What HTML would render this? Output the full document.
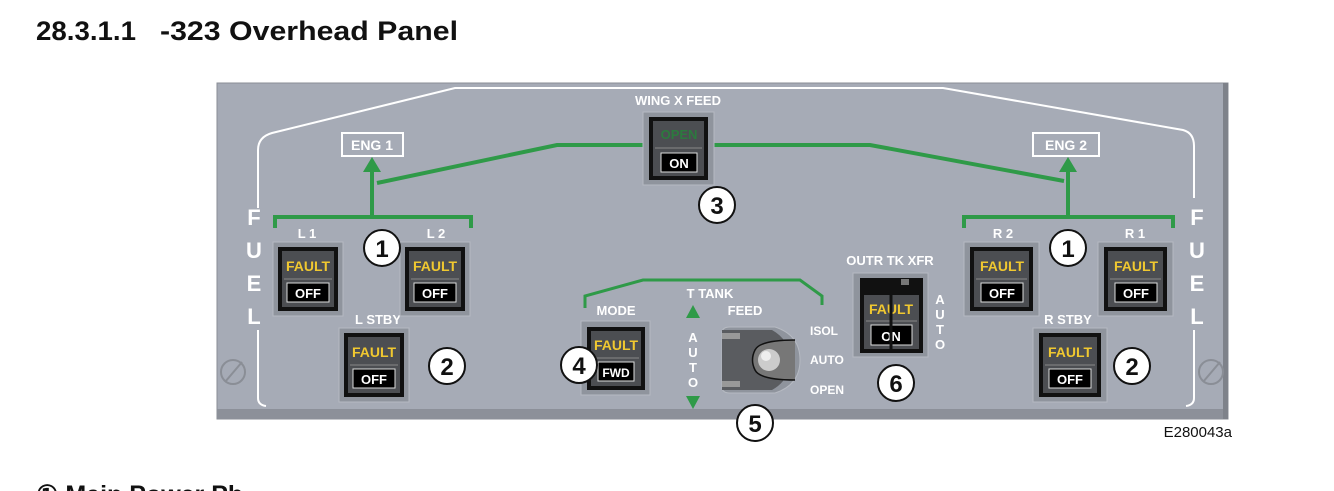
<!DOCTYPE html>
<html><head><meta charset="utf-8"><style>
html,body{margin:0;padding:0;background:#fff;}
svg{display:block;font-family:"Liberation Sans",Arial,sans-serif;}
</style></head><body>
<svg width="1334" height="491" viewBox="0 0 1334 491" xmlns="http://www.w3.org/2000/svg">
<text x="36" y="40" font-size="27" font-weight="bold" fill="#111" textLength="100" lengthAdjust="spacingAndGlyphs">28.3.1.1</text>
<text x="160" y="40" font-size="27" font-weight="bold" fill="#111" textLength="298" lengthAdjust="spacingAndGlyphs">-323 Overhead Panel</text>
<text x="36" y="503" font-size="25" font-weight="bold" fill="#111">① Main Power Pb</text>

<!-- panel -->
<rect x="217" y="83" width="1011" height="336" fill="#a6abb6" stroke="#8a8e96" stroke-width="1"/>
<rect x="217" y="409" width="1011" height="10" fill="#8c9099"/>
<rect x="1223" y="83" width="5" height="336" fill="#7e828a"/>
<path d="M258,208 L258,150 Q258,137 272,133 L455,88 L943,88 L1183,130 Q1194,133 1194,146 L1194,198" fill="none" stroke="#fff" stroke-width="2"/>
<path d="M258,330 L258,398 Q258,405 266,406" fill="none" stroke="#fff" stroke-width="2"/>
<path d="M1194,330 L1194,398 Q1194,405 1186,406" fill="none" stroke="#fff" stroke-width="2"/>
<g font-size="22" font-weight="bold" fill="#fff" text-anchor="middle">
<text x="254" y="225">F</text><text x="254" y="258">U</text><text x="254" y="291">E</text><text x="254" y="324">L</text>
<text x="1197" y="225">F</text><text x="1197" y="258">U</text><text x="1197" y="291">E</text><text x="1197" y="324">L</text>
</g>
<g stroke="#8a8e96" stroke-width="2" fill="#a6abb6">
<circle cx="233" cy="372" r="12"/><line x1="225" y1="382" x2="242" y2="362"/>
<circle cx="1211" cy="372" r="12"/><line x1="1203" y1="382" x2="1220" y2="362"/>
</g>

<g fill="none" stroke="#2f9a48" stroke-width="4">
<path d="M275,228 L275,217 L471,217 L471,228"/>
<path d="M372,217 L372,170"/>
<path d="M377,183 L557,145 L645,145"/>
<path d="M964,228 L964,217 L1173,217 L1173,228"/>
<path d="M1068,217 L1068,170"/>
<path d="M1064,181 L870,145 L712,145"/>
<path d="M585,308 L585,296 L643,280 L800,280 L822,296 L822,305" stroke-width="3"/>
</g>
<polygon points="372,157 363,172 381,172" fill="#2f9a48"/>
<polygon points="1068,157 1059,172 1077,172" fill="#2f9a48"/>
<polygon points="693,305 686,318 700,318" fill="#2f9a48"/>
<polygon points="693,409 686,396 700,396" fill="#2f9a48"/>

<rect x="342" y="133" width="61" height="23" fill="none" stroke="#fff" stroke-width="2"/>
<text x="372" y="150" font-size="14" font-weight="bold" fill="#fff" text-anchor="middle">ENG 1</text>
<rect x="1033" y="133" width="66" height="23" fill="none" stroke="#fff" stroke-width="2"/>
<text x="1066" y="150" font-size="14" font-weight="bold" fill="#fff" text-anchor="middle">ENG 2</text>

<g font-size="13" font-weight="bold" fill="#fff" text-anchor="middle">
<text x="307" y="238">L 1</text><text x="436" y="238">L 2</text><text x="378" y="324">L STBY</text>
<text x="1003" y="238">R 2</text><text x="1135" y="238">R 1</text><text x="1068" y="324">R STBY</text>
<text x="678" y="105">WING X FEED</text>
<text x="710" y="298">T TANK</text>
<text x="616" y="315">MODE</text>
<text x="745" y="315">FEED</text>
<text x="890" y="265">OUTR TK XFR</text>
<text x="693" y="342">A</text><text x="693" y="357">U</text><text x="693" y="372">T</text><text x="693" y="387">O</text>
<text x="940" y="304">A</text><text x="940" y="319">U</text><text x="940" y="334">T</text><text x="940" y="349">O</text>
</g>
<g font-size="12" font-weight="bold" fill="#fff">
<text x="810" y="335">ISOL</text><text x="810" y="364">AUTO</text><text x="810" y="394">OPEN</text>
</g>

<g font-weight="bold" text-anchor="middle">
<rect x="273" y="242" width="70" height="74" fill="#8f949d" stroke="#b6bac2"/>
<rect x="278" y="247" width="60" height="64" fill="#111"/><rect x="282" y="251" width="52" height="56" fill="#4c4e52"/>
<text x="308" y="271" font-size="14" fill="#f0c830">FAULT</text><line x1="284" y1="279" x2="332" y2="279" stroke="#888"/>
<rect x="287" y="283" width="42" height="19" fill="#000" stroke="#ddd"/><text x="308" y="298" font-size="13" fill="#fff">OFF</text>
<rect x="400" y="242" width="70" height="74" fill="#8f949d" stroke="#b6bac2"/>
<rect x="405" y="247" width="60" height="64" fill="#111"/><rect x="409" y="251" width="52" height="56" fill="#4c4e52"/>
<text x="435" y="271" font-size="14" fill="#f0c830">FAULT</text><line x1="411" y1="279" x2="459" y2="279" stroke="#888"/>
<rect x="414" y="283" width="42" height="19" fill="#000" stroke="#ddd"/><text x="435" y="298" font-size="13" fill="#fff">OFF</text>
<rect x="339" y="328" width="70" height="74" fill="#8f949d" stroke="#b6bac2"/>
<rect x="344" y="333" width="60" height="64" fill="#111"/><rect x="348" y="337" width="52" height="56" fill="#4c4e52"/>
<text x="374" y="357" font-size="14" fill="#f0c830">FAULT</text><line x1="350" y1="365" x2="398" y2="365" stroke="#888"/>
<rect x="353" y="369" width="42" height="19" fill="#000" stroke="#ddd"/><text x="374" y="384" font-size="13" fill="#fff">OFF</text>
<rect x="964" y="242" width="75" height="74" fill="#8f949d" stroke="#b6bac2"/>
<rect x="970" y="247" width="63" height="64" fill="#111"/><rect x="974" y="251" width="55" height="56" fill="#4c4e52"/>
<text x="1002" y="271" font-size="14" fill="#f0c830">FAULT</text><line x1="976" y1="279" x2="1027" y2="279" stroke="#888"/>
<rect x="981" y="283" width="42" height="19" fill="#000" stroke="#ddd"/><text x="1002" y="298" font-size="13" fill="#fff">OFF</text>
<rect x="1098" y="242" width="75" height="74" fill="#8f949d" stroke="#b6bac2"/>
<rect x="1104" y="247" width="63" height="64" fill="#111"/><rect x="1108" y="251" width="55" height="56" fill="#4c4e52"/>
<text x="1136" y="271" font-size="14" fill="#f0c830">FAULT</text><line x1="1110" y1="279" x2="1161" y2="279" stroke="#888"/>
<rect x="1115" y="283" width="42" height="19" fill="#000" stroke="#ddd"/><text x="1136" y="298" font-size="13" fill="#fff">OFF</text>
<rect x="1033" y="328" width="74" height="74" fill="#8f949d" stroke="#b6bac2"/>
<rect x="1039" y="333" width="62" height="64" fill="#111"/><rect x="1043" y="337" width="54" height="56" fill="#4c4e52"/>
<text x="1070" y="357" font-size="14" fill="#f0c830">FAULT</text><line x1="1045" y1="365" x2="1095" y2="365" stroke="#888"/>
<rect x="1049" y="369" width="42" height="19" fill="#000" stroke="#ddd"/><text x="1070" y="384" font-size="13" fill="#fff">OFF</text>
<rect x="643" y="112" width="71" height="73" fill="#8f949d" stroke="#b6bac2"/>
<rect x="649" y="117" width="59" height="63" fill="#111"/><rect x="653" y="121" width="51" height="55" fill="#4c4e52"/>
<text x="679" y="139" font-size="13" fill="#2c7a3e">OPEN</text><line x1="655" y1="148" x2="702" y2="148" stroke="#888"/>
<rect x="661" y="153" width="36" height="19" fill="#000" stroke="#ddd"/><text x="679" y="168" font-size="13" fill="#fff">ON</text>
<rect x="581" y="321" width="69" height="74" fill="#8f949d" stroke="#b6bac2"/>
<rect x="587" y="327" width="58" height="63" fill="#111"/><rect x="591" y="331" width="50" height="55" fill="#4c4e52"/>
<text x="616" y="350" font-size="14" fill="#f0c830">FAULT</text><line x1="593" y1="358" x2="639" y2="358" stroke="#888"/>
<rect x="598" y="362" width="36" height="19" fill="#000" stroke="#ddd"/><text x="616" y="377" font-size="12" fill="#fff">FWD</text>
<rect x="853" y="273" width="75" height="84" fill="#8f949d" stroke="#b6bac2"/>
<rect x="860" y="278" width="63" height="75" fill="#111"/>
<rect x="864" y="295" width="55" height="54" fill="#4c4e52"/>
<text x="891" y="314" font-size="14" fill="#f0c830">FAULT</text><line x1="866" y1="321" x2="917" y2="321" stroke="#888"/>
<rect x="871" y="325" width="41" height="20" fill="#000" stroke="#ddd"/><text x="891" y="341" font-size="13" fill="#fff">ON</text>
<line x1="891" y1="286" x2="891" y2="352" stroke="#111" stroke-width="3"/>
<rect x="901" y="279" width="8" height="6" fill="#777"/>
</g>

<path d="M722,333 Q722,327 730,327 L775,327 Q800,335 800,360 Q800,385 775,393 L730,393 Q722,393 722,387 Z" fill="#8f949d" stroke="#b6bac2"/>
<path d="M722,330 L772,330 Q790,340 790,360 Q790,380 772,390 L722,390 Z" fill="#5a5c60"/>
<rect x="722" y="333" width="18" height="6" fill="#999"/><rect x="722" y="381" width="18" height="6" fill="#999"/>
<path d="M795,340 Q760,340 755,350 Q750,360 755,370 Q760,380 795,380" fill="#777" stroke="#111" stroke-width="1.5"/>
<circle cx="769" cy="360" r="11" fill="#ccc"/><circle cx="766" cy="356" r="5" fill="#eee"/>

<g fill="#fff" stroke="#111" stroke-width="2">
<circle cx="382" cy="248" r="18"/><circle cx="447" cy="366" r="18"/>
<circle cx="717" cy="205" r="18"/><circle cx="579" cy="365" r="18"/>
<circle cx="755" cy="423" r="18"/><circle cx="896" cy="383" r="18"/>
<circle cx="1068" cy="248" r="18"/><circle cx="1132" cy="366" r="18"/>
</g>
<g font-size="24" font-weight="bold" fill="#111" text-anchor="middle">
<text x="382" y="257">1</text><text x="447" y="375">2</text>
<text x="717" y="214">3</text><text x="579" y="374">4</text>
<text x="755" y="432">5</text><text x="896" y="392">6</text>
<text x="1068" y="257">1</text><text x="1132" y="375">2</text>
</g>

<text x="1232" y="437" font-size="15" fill="#111" text-anchor="end">E280043a</text>
</svg>
</body></html>
